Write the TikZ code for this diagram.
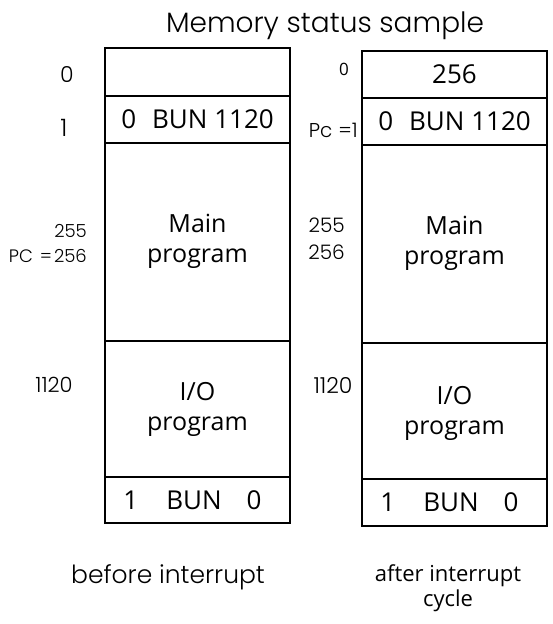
\documentclass[tikz,border=0pt]{standalone}
\usepackage{fontspec}
\setmainfont{Open Sans}
\newfontfamily\thinfont{Poppins Light}
\usetikzlibrary{positioning}
\begin{document}
\begin{tikzpicture}[x=1pt,y=1pt,
  cell/.style={draw,line width=1.8pt,minimum width=185pt,outer sep=0pt,
    inner sep=0pt,align=center,font=\fontsize{26}{30}\selectfont},
  addr/.style={font=\thinfont\fontsize{18}{24}\selectfont,inner sep=0pt},
  caption/.style={inner sep=0pt,align=center},
  prog/.style={inner sep=0pt,align=center,font=\fontsize{25}{30}\selectfont}
  ]
  \useasboundingbox (0,0) rectangle (553,-624);
  \node[caption,font=\thinfont\fontsize{28}{30}\selectfont,anchor=base] (title) at (325,-32) {Memory status sample};
  % before interrupt
  \node[cell,minimum height=48pt,anchor=north] (b0) at (197.5,-48) {};
  \node[cell,minimum height=47pt,below=0pt of b0] (b1) {0\hspace{16pt}BUN 1120};
  \node[cell,minimum height=198pt,below=0pt of b1] (bmain) {};
  \node[cell,minimum height=136pt,below=0pt of bmain] (bio) {};
  \node[cell,minimum height=46pt,below=0pt of bio] (bret) {1\hspace{28pt}BUN\hspace{25pt}0\hspace{10pt}};
  \node[prog] at (bmain.center |- 0,-241) {Main\\program};
  \node[prog] at (bio.center |- 0,-409) {I/O\\program};
  \node[addr,font=\thinfont\fontsize{22}{24}\selectfont] at (67,-75) {0};
  \node[addr,font=\thinfont\fontsize{24}{24}\selectfont] at (64,-128) {1};
  \node[addr,anchor=east] at (87,-231) {255};
  \node[addr,anchor=east] at (87,-256) {PC\hspace{7pt}=\hspace{2pt}256};
  \node[addr,font=\thinfont\fontsize{21}{24}\selectfont] at (54,-385) {1120};
  \node[caption,font=\thinfont\fontsize{25}{30}\selectfont,anchor=base] (before) at (168,-583) {before interrupt};
  % after interrupt cycle
  \node[cell,minimum height=47pt,anchor=north] (a0) at (454.5,-51) {256};
  \node[cell,minimum height=47pt,below=0pt of a0] (a1) {0\hspace{16pt}BUN 1120};
  \node[cell,minimum height=198pt,below=0pt of a1] (amain) {};
  \node[cell,minimum height=136pt,below=0pt of amain] (aio) {};
  \node[cell,minimum height=47pt,below=0pt of aio] (aret) {1\hspace{28pt}BUN\hspace{25pt}0\hspace{10pt}};
  \node[prog] at (amain.center |- 0,-243) {Main\\program};
  \node[prog] at (aio.center |- 0,-413) {I/O\\program};
  \node[addr,font=\fontsize{17}{18}\selectfont] at (344,-69) {0};
  \node[addr,font=\thinfont\fontsize{20}{24}\selectfont,anchor=east] at (358,-130) {Pc\hspace{6pt}=1};
  \node[addr,font=\thinfont\fontsize{20}{24}\selectfont,anchor=east] at (345,-225) {255};
  \node[addr,font=\thinfont\fontsize{20}{24}\selectfont,anchor=east] at (345,-252) {256};
  \node[addr,font=\thinfont\fontsize{22}{24}\selectfont] at (333,-385) {1120};
  \node[caption,font=\fontsize{22}{25}\selectfont] (after) at (448,-588) {after interrupt\\cycle};
\end{tikzpicture}
\end{document}
